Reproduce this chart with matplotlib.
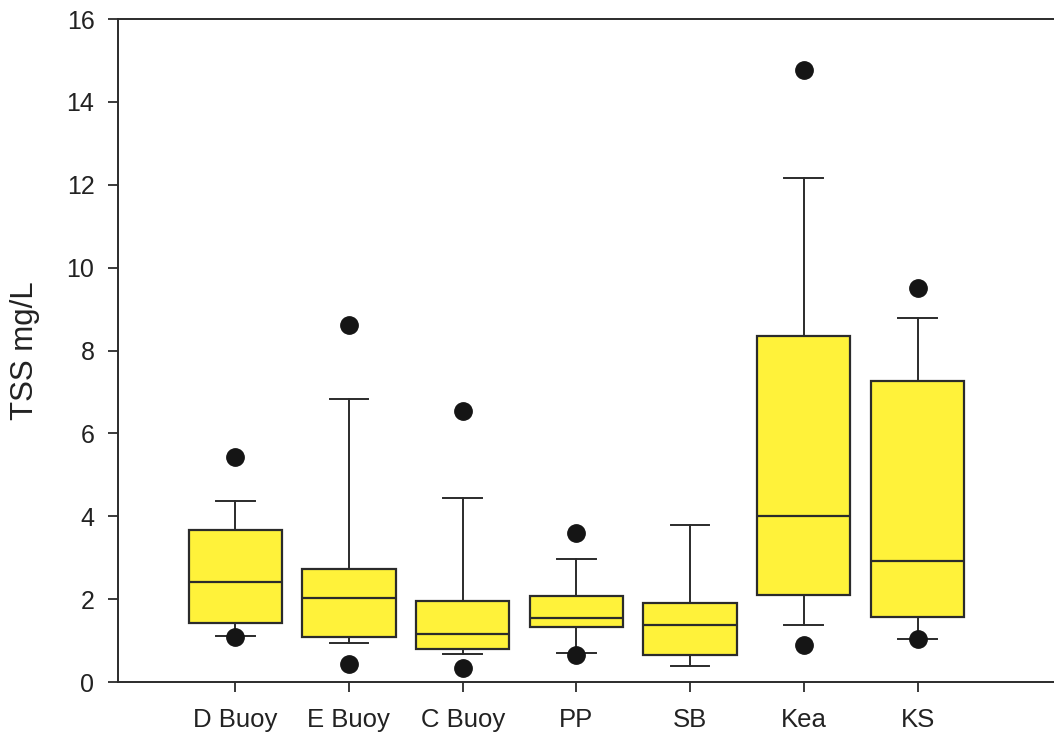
import matplotlib.pyplot as plt

plt.rcParams['font.family'] = ['Liberation Sans', 'DejaVu Sans']

sites = ['D Buoy', 'E Buoy', 'C Buoy', 'PP', 'SB', 'Kea', 'KS']
q1 = [1.43, 1.08, 0.80, 1.33, 0.64, 2.09, 1.56]
med = [2.42, 2.03, 1.17, 1.54, 1.37, 4.01, 2.91]
q3 = [3.68, 2.73, 1.95, 2.08, 1.91, 8.35, 7.26]
whis_lo = [1.10, 0.93, 0.67, 0.71, 0.39, 1.38, 1.05]
whis_hi = [4.38, 6.82, 4.44, 2.96, 3.79, 12.17, 8.78]
outliers = [[5.42, 1.08], [8.62, 0.43], [6.55, 0.35], [3.60, 0.66], [], [14.78, 0.89], [9.52, 1.03]]

stats = []
for i, name in enumerate(sites):
    stats.append({'label': name, 'q1': q1[i], 'med': med[i], 'q3': q3[i],
                  'whislo': whis_lo[i], 'whishi': whis_hi[i], 'fliers': outliers[i]})

edge = '#2b2b2b'
fig = plt.figure(figsize=(10.54, 7.37), dpi=100)
ax = fig.add_axes([0.112, 0.0746, 0.888, 0.8996])

pos = list(range(1, len(sites) + 1))
ax.bxp(stats, positions=pos, widths=0.82, capwidths=0.34, patch_artist=True,
       boxprops=dict(facecolor='#fff23a', edgecolor=edge, linewidth=1.6),
       medianprops=dict(color=edge, linewidth=1.6),
       whiskerprops=dict(color=edge, linewidth=1.4),
       capprops=dict(color=edge, linewidth=1.4),
       flierprops=dict(marker='o', markerfacecolor='#151515', markeredgecolor='#151515',
                       markersize=12.5))

ax.set_xlim(-0.03, 8.2)
ax.set_ylim(0, 16)
ax.set_yticks(range(0, 17, 2))
ax.set_xticks(pos)
ax.set_xticklabels(sites)
ax.set_ylabel('TSS mg/L', fontsize=22.5, color='#222222')
ax.yaxis.set_label_coords(-0.083, 0.5)

for s in ['left', 'top', 'bottom']:
    ax.spines[s].set_color(edge)
    ax.spines[s].set_linewidth(1.4)
ax.spines['right'].set_visible(False)
ax.tick_params(direction='out', length=7, width=1.3, color=edge,
               labelsize=18, labelcolor='#222222')
ax.tick_params(axis='y', pad=10)
ax.tick_params(axis='x', pad=12, labelsize=18.5)

fig.savefig('out.png', dpi=100)
